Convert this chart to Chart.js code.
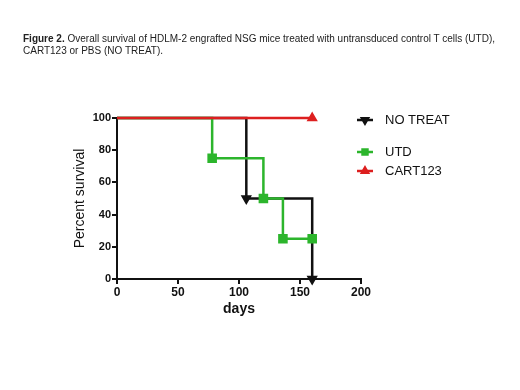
<!DOCTYPE html>
<html>
<head>
<meta charset="utf-8">
<script src="https://cdn.jsdelivr.net/npm/chart.js@4.4.1/dist/chart.umd.min.js"></script>
<style>
  body { margin: 0; background: #fff; font-family: "Liberation Sans", Arial, sans-serif; }
  #wrap { position: relative; width: 520px; height: 390px; }
  #title { position: absolute; left: 23px; top: 33px; font-size: 10px; line-height: 11.5px; color: #222; white-space: nowrap; }
  canvas { position: absolute; left: 0; top: 0; }
</style>
</head>
<body>
<div id="wrap">
  <canvas id="survivalChart" width="520" height="390"></canvas>
  <div id="title"><b>Figure 2.</b> Overall survival of HDLM-2 engrafted NSG mice treated with untransduced control T cells (UTD),<br>CART123 or PBS (NO TREAT).</div>
</div>
<script>
// 생존 곡선 데이터 (days, percent)
const noTreatDays = [0, 106, 160];
const noTreatSurv = [100, 50, 0];
const utdDays = [0, 78, 120, 136, 160];
const utdSurv = [100, 75, 50, 25, 25];
const cartDays = [0, 160];
const cartSurv = [100, 100];
const xTicks = [0, 50, 100, 150, 200];
const yTicks = [0, 20, 40, 60, 80, 100];

const toPts = (xs, ys) => xs.map((x, i) => ({ x: x, y: ys[i] }));

const series = [
  { label: 'NO TREAT', days: noTreatDays, surv: noTreatSurv, color: '#111111', style: 'triangle', rot: 180, r: 4, ly: 120 },
  { label: 'UTD', days: utdDays, surv: utdSurv, color: '#2cb52c', style: 'rect', rot: 0, r: 5, ly: 152 },
  { label: 'CART123', days: cartDays, surv: cartSurv, color: '#dd1f1f', style: 'triangle', rot: 0, r: 4, ly: 171 },
];

// 범례 직접 그리기 (간격이 고르지 않음)
const legendPlugin = {
  id: 'sideLegend',
  afterDraw(chart) {
    const ctx = chart.ctx;
    ctx.save();
    series.forEach((s) => {
      ctx.strokeStyle = s.color;
      ctx.fillStyle = s.color;
      ctx.lineWidth = 2.5;
      ctx.beginPath();
      ctx.moveTo(357, s.ly);
      ctx.lineTo(373, s.ly);
      ctx.stroke();
      Chart.helpers.drawPoint(ctx, { pointStyle: s.style, radius: 3.5, rotation: s.rot, borderWidth: 1 }, 365, s.ly);
      ctx.fill();
      ctx.fillStyle = '#111';
      ctx.font = '13px "Liberation Sans", Arial, sans-serif';
      ctx.textBaseline = 'middle';
      ctx.fillText(s.label, 385, s.ly + 0.5);
    });
    ctx.restore();
  },
};

const ctx = document.getElementById('survivalChart').getContext('2d');
new Chart(ctx, {
  type: 'line',
  data: {
    datasets: series.map((s) => ({
      label: s.label,
      data: toPts(s.days, s.surv),
      borderColor: s.color,
      backgroundColor: s.color,
      pointBackgroundColor: s.color,
      pointBorderColor: s.color,
      pointStyle: s.style,
      rotation: s.rot,
      pointRadius: s.days.map((d, i) => (i === 0 ? 0 : s.r)),
      borderWidth: 2.5,
      stepped: 'before',
      fill: false,
      clip: false,
    })).reverse(),
  },
  options: {
    responsive: false,
    animation: false,
    layout: { padding: { left: 68, right: 159, top: 118, bottom: 68 } },
    plugins: {
      legend: { display: false },
      tooltip: { enabled: false },
    },
    scales: {
      x: {
        type: 'linear',
        min: 0,
        max: 200,
        afterBuildTicks: (scale) => { scale.ticks = xTicks.map((v) => ({ value: v })); },
        afterFit: (scale) => { scale.height = 43; },
        border: { color: '#111', width: 2 },
        grid: { drawOnChartArea: false, drawTicks: true, tickLength: 5, color: '#111', lineWidth: 2 },
        ticks: { color: '#111', font: { size: 12, weight: 'bold', family: '"Liberation Sans", Arial' }, padding: 1 },
        title: { display: true, text: 'days', color: '#111', font: { size: 14, weight: 'bold', family: '"Liberation Sans", Arial' }, padding: { top: 4, bottom: 4 } },
      },
      y: {
        min: 0,
        max: 100,
        afterBuildTicks: (scale) => { scale.ticks = yTicks.map((v) => ({ value: v })); },
        afterFit: (scale) => { scale.width = 49; },
        border: { color: '#111', width: 2 },
        grid: { drawOnChartArea: false, drawTicks: true, tickLength: 5, color: '#111', lineWidth: 2 },
        ticks: { color: '#111', font: { size: 11, weight: 'bold', family: '"Liberation Sans", Arial' }, padding: 1 },
        title: { display: true, text: 'Percent survival', color: '#111', font: { size: 14, family: '"Liberation Sans", Arial' }, padding: { top: 4, bottom: 4 } },
      },
    },
  },
  plugins: [legendPlugin],
});
</script>
</body>
</html>
